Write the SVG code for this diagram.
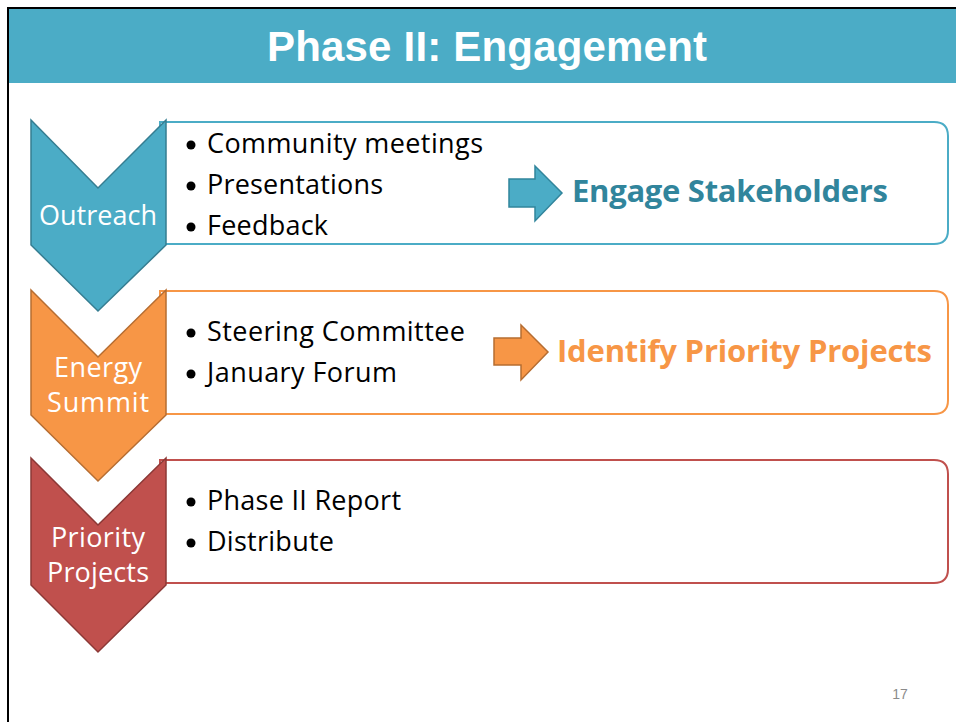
<svg xmlns="http://www.w3.org/2000/svg" width="956" height="722" viewBox="0 0 956 722">
  <style>
    .bullet { font-family: "Open Sans", "Noto Sans", sans-serif; font-size: 27px; fill: #000; }
    .dot { fill: #000; }
    .label { font-family: "Open Sans", "Noto Sans", sans-serif; font-size: 27px; fill: #fff; text-anchor: middle; }
    .outcome { font-family: "Open Sans", "Noto Sans", sans-serif; font-size: 31px; font-weight: bold; }
    .teal-box { fill: #fff; stroke: #4BACC6; stroke-width: 2; }
    .orange-box { fill: #fff; stroke: #F79646; stroke-width: 2; }
    .red-box { fill: #fff; stroke: #C0504D; stroke-width: 2; }
    .teal-chev { fill: #4BACC6; stroke: #357D91; stroke-width: 1.5; }
    .orange-chev { fill: #F79646; stroke: #B66D31; stroke-width: 1.5; }
    .red-chev { fill: #C0504D; stroke: #8C3836; stroke-width: 1.5; }
  </style>

  <!-- slide frame and title band -->
  <rect x="0" y="0" width="956" height="722" fill="#fff"/>
  <rect x="9" y="9" width="947" height="74" fill="#4BACC6"/>
  <line x1="8" y1="8" x2="956" y2="8" stroke="#000" stroke-width="2"/>
  <line x1="8" y1="7" x2="8" y2="722" stroke="#000" stroke-width="2"/>
  <text x="487" y="61" text-anchor="middle" font-family="'Liberation Sans', Arial, sans-serif" font-size="42" font-weight="bold" fill="#fff" textLength="440">Phase II: Engagement</text>

  <!-- step 1: outreach -->
  <g id="outreach">
    <path class="teal-box" d="M160 122 H934 Q948 122 948 136 V230 Q948 244 934 244 H160 Z"/>
    <polygon class="teal-chev" points="31,120 98,188 166,120 166,245 98,311 31,245"/>
    <text class="label" x="98" y="225" textLength="118">Outreach</text>
    <circle class="dot" cx="191" cy="145" r="4.5"/>
    <circle class="dot" cx="191" cy="186" r="4.5"/>
    <circle class="dot" cx="191" cy="227" r="4.5"/>
    <text class="bullet" x="207" y="153" textLength="276">Community meetings</text>
    <text class="bullet" x="207" y="194" textLength="176">Presentations</text>
    <text class="bullet" x="207" y="235" textLength="121">Feedback</text>
    <text class="outcome" x="572" y="202" fill="#31859C" textLength="316">Engage Stakeholders</text>
  </g>

  <!-- step 2: energy summit -->
  <g id="energy-summit">
    <path class="orange-box" d="M160 291 H934 Q948 291 948 305 V400 Q948 414 934 414 H160 Z"/>
    <polygon class="orange-chev" points="31,290 98,357 166,290 166,415 98,481 31,415"/>
    <text class="label" x="98" y="377" textLength="88">Energy</text>
    <text class="label" x="98" y="412" textLength="102">Summit</text>
    <circle class="dot" cx="191" cy="333" r="4.5"/>
    <circle class="dot" cx="191" cy="374" r="4.5"/>
    <text class="bullet" x="207" y="341" textLength="258">Steering Committee</text>
    <text class="bullet" x="207" y="382" textLength="190">January Forum</text>
    <text class="outcome" x="557" y="362" fill="#F79646" textLength="375">Identify Priority Projects</text>
  </g>

  <!-- step 3: priority projects -->
  <g id="priority-projects">
    <path class="red-box" d="M160 460 H934 Q948 460 948 474 V569 Q948 583 934 583 H160 Z"/>
    <polygon class="red-chev" points="31,458 98,525 166,458 166,585 98,652 31,585"/>
    <text class="label" x="98" y="547" textLength="94">Priority</text>
    <text class="label" x="98" y="582" textLength="102">Projects</text>
    <circle class="dot" cx="191" cy="502" r="4.5"/>
    <circle class="dot" cx="191" cy="543" r="4.5"/>
    <text class="bullet" x="207" y="510" textLength="194">Phase II Report</text>
    <text class="bullet" x="207" y="551" textLength="127">Distribute</text>
  </g>

  <!-- block arrows leading to outcomes -->
  <g id="connectors">
    <polygon points="509,179 535,179 535,166 562,193 535,221 535,207 509,207" fill="#4BACC6" stroke="#31859C" stroke-width="1.5"/>
    <polygon points="494,338 521,338 521,325 548,352 521,380 521,365 494,365" fill="#F79646" stroke="#B66D31" stroke-width="1.5"/>
  </g>

  <!-- page number -->
  <text x="900" y="699" text-anchor="middle" font-family="'Liberation Sans', Arial, sans-serif" font-size="14" fill="#8B8B8B">17</text>
</svg>
